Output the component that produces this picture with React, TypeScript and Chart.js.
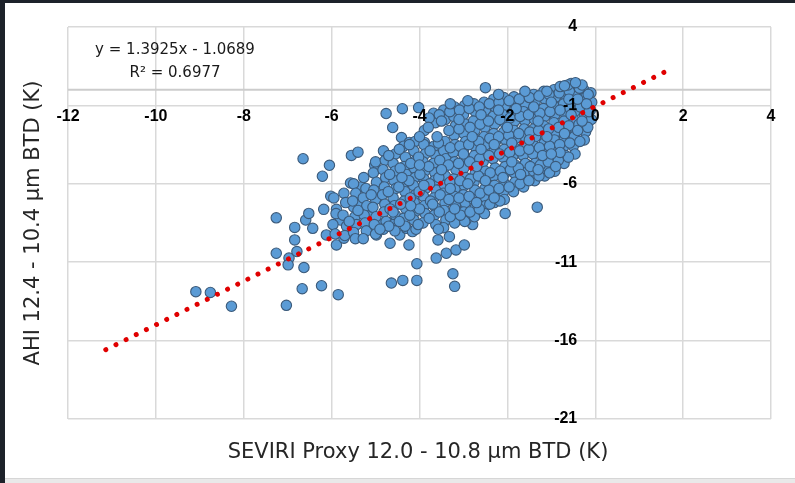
import React, { useEffect, useRef } from "react";
import { Chart, registerables } from "chart.js";

Chart.register(...registerables);

// ---- axis ticks ----
const xTicks = [-12, -10, -8, -6, -4, -2, 0, 2, 4];
const yTicks = [4, -1, -6, -11, -16, -21];

// ---- texts ----
const xTitle = "SEVIRI Proxy 12.0 - 10.8 μm BTD (K)";
const yTitle = "AHI 12.4 - 10.4 μm BTD (K)";
const equationLines = ["y = 1.3925x - 1.0689", "R² = 0.6977"];

// ---- linear trendline (Excel) ----
const trendSlope = 1.3925;
const trendIntercept = -1.0689;
const trendXStart = -11.14;
const trendXEnd = 1.62;

// ---- scattered points (x, y) ----
const outlierPoints: [number, number][] = [
  [-9.09, -12.88], [-8.76, -12.93], [-8.28, -13.81], [-7.26, -8.17], [-7.26, -10.43],
  [-7.03, -13.75], [-6.97, -10.74], [-6.99, -11.17], [-6.84, -8.78], [-6.84, -9.58],
  [-6.79, -10.32], [-6.67, -12.69], [-6.65, -4.4], [-6.63, -11.34], [-6.59, -8.31],
  [-6.52, -7.89], [-6.43, -8.84], [-6.23, -12.5], [-6.21, -5.52], [-6.18, -7.63],
  [-6.12, -9.26], [-6.05, -4.82], [-6.02, -6.79], [-5.89, -7.63], [-5.89, -9.9],
  [-5.85, -13.07], [-5.8, -8.31], [-5.72, -9.47], [-5.57, -5.95], [-5.55, -4.19],
  [-5.5, -7.47], [-5.4, -3.98], [-5.33, -6.2], [-5.33, -7.25], [-5.12, -6.52],
  [-5.1, -7.79], [-5.08, -8.84], [-5.02, -4.82], [-4.98, -8.42], [-4.98, -9.26],
  [-4.76, -1.52], [-4.67, -9.79], [-4.64, -12.33], [-4.61, -2.41], [-4.53, -8.31],
  [-4.45, -9.26], [-4.41, -3.05], [-4.39, -1.21], [-4.38, -12.16], [-4.3, -8.84],
  [-4.24, -9.9], [-4.23, -3.36], [-4.45, -4.0], [-4.16, -9.05], [-4.06, -11.1],
  [-4.06, -12.16], [-4.02, -1.14], [-3.89, -2.6], [-3.89, -3.36], [-3.62, -10.74],
  [-3.39, -10.43], [-3.24, -11.74], [-3.2, -12.54], [-3.17, -10.22], [-2.98, -9.9],
  [-2.5, 0.13], [-2.05, -7.89], [-1.32, -7.49], [-0.55, 0.4], [-3.32, -9.37],
  [-3.58, -9.58], [-2.79, -8.6], [-2.94, -8.3],
];

// ---- dense core of the cloud (x, y) ----
const corePoints: [number, number][] = [
  [-5.95, -6.9], [-5.9, -7.9], [-5.97, -8.6], [-5.92, -9.2],
  [-5.72, -6.6], [-5.68, -7.2], [-5.74, -8.0], [-5.66, -8.7], [-5.7, -9.3],
  [-5.5, -6.0], [-5.45, -6.6], [-5.52, -7.1], [-5.47, -8.1], [-5.43, -8.6], [-5.5, -9.1], [-5.46, -9.5],
  [-5.27, -5.6], [-5.22, -6.3], [-5.28, -6.9], [-5.2, -7.4], [-5.26, -8.0], [-5.24, -8.5], [-5.21, -9.0], [-5.28, -9.5],
  [-5.0, -4.6], [-5.05, -5.3], [-4.98, -5.9], [-5.04, -6.4], [-5.0, -7.0], [-5.06, -7.5], [-4.99, -8.1], [-5.03, -8.6], [-5.0, -9.2],
  [-4.82, -3.9], [-4.78, -4.5], [-4.83, -5.1], [-4.77, -5.6], [-4.8, -6.2], [-4.84, -6.7], [-4.79, -7.3], [-4.81, -7.8], [-4.76, -8.4], [-4.82, -8.9],
  [-4.55, -4.1], [-4.6, -4.7], [-4.56, -5.2], [-4.58, -5.8], [-4.54, -6.3], [-4.6, -6.9], [-4.57, -7.4], [-4.55, -8.0], [-4.59, -8.6], [-4.56, -9.0],
  [-4.36, -3.6], [-4.32, -4.3], [-4.35, -4.9], [-4.3, -5.4], [-4.37, -6.0], [-4.33, -6.5], [-4.35, -7.1], [-4.31, -7.6], [-4.36, -8.2], [-4.33, -8.7],
  [-4.1, -3.3], [-4.13, -3.9], [-4.08, -4.5], [-4.12, -5.0], [-4.1, -5.6], [-4.14, -6.1], [-4.09, -6.7], [-4.12, -7.2], [-4.1, -7.8], [-4.13, -8.3], [-4.08, -8.9],
  [-3.9, -3.5], [-3.87, -4.1], [-3.92, -4.6], [-3.88, -5.2], [-3.9, -5.7], [-3.86, -6.3], [-3.91, -6.8], [-3.89, -7.4], [-3.87, -7.9], [-3.92, -8.5],
  [-3.68, -1.5], [-3.64, -2.1], [-3.67, -3.6], [-3.63, -4.2], [-3.68, -4.7], [-3.65, -5.3], [-3.66, -5.8], [-3.62, -6.4], [-3.67, -6.9], [-3.64, -7.5], [-3.66, -8.0], [-3.63, -8.6],
  [-3.45, -1.3], [-3.41, -1.9], [-3.42, -3.3], [-3.45, -3.9], [-3.4, -4.4], [-3.44, -5.0], [-3.41, -5.5], [-3.43, -6.1], [-3.46, -6.6], [-3.42, -7.2], [-3.44, -7.7], [-3.4, -8.3], [-3.45, -8.8],
  [-3.2, -1.1], [-3.22, -1.7], [-3.18, -2.3], [-3.21, -2.9], [-3.19, -3.5], [-3.23, -4.0], [-3.2, -4.6], [-3.17, -5.1], [-3.22, -5.7], [-3.19, -6.3], [-3.21, -6.8], [-3.18, -7.4], [-3.22, -7.9], [-3.2, -8.5],
  [-2.97, -1.0], [-3.0, -1.6], [-2.96, -2.2], [-2.99, -2.8], [-2.95, -3.3], [-3.0, -3.9], [-2.97, -4.4], [-2.99, -5.0], [-2.95, -5.6], [-2.98, -6.1], [-3.0, -6.7], [-2.96, -7.2], [-2.99, -7.8], [-2.97, -8.4],
  [-2.76, -0.9], [-2.73, -1.4], [-2.77, -2.0], [-2.74, -2.6], [-2.76, -3.1], [-2.72, -3.7], [-2.75, -4.2], [-2.77, -4.8], [-2.73, -5.3], [-2.76, -5.9], [-2.74, -6.4], [-2.77, -7.0], [-2.73, -7.5], [-2.75, -8.1],
  [-2.53, -0.8], [-2.5, -1.3], [-2.54, -1.9], [-2.51, -2.4], [-2.53, -3.0], [-2.49, -3.5], [-2.52, -4.1], [-2.55, -4.6], [-2.5, -5.2], [-2.53, -5.7], [-2.51, -6.3], [-2.54, -6.8], [-2.5, -7.4], [-2.52, -7.9],
  [-2.31, -0.6], [-2.28, -1.1], [-2.32, -1.7], [-2.29, -2.2], [-2.31, -2.8], [-2.27, -3.3], [-2.3, -3.9], [-2.33, -4.4], [-2.28, -5.0], [-2.31, -5.5], [-2.29, -6.1], [-2.32, -6.6], [-2.3, -7.2],
  [-2.08, -0.5], [-2.05, -1.0], [-2.09, -1.6], [-2.06, -2.1], [-2.08, -2.7], [-2.04, -3.2], [-2.07, -3.8], [-2.1, -4.3], [-2.05, -4.9], [-2.08, -5.4], [-2.06, -6.0], [-2.09, -6.5], [-2.07, -7.0],
  [-1.85, -0.45], [-1.82, -0.95], [-1.86, -1.5], [-1.83, -2.0], [-1.85, -2.6], [-1.81, -3.1], [-1.84, -3.7], [-1.87, -4.2], [-1.82, -4.8], [-1.85, -5.3], [-1.83, -5.9], [-1.86, -6.5],
  [-1.62, -0.4], [-1.59, -0.9], [-1.63, -1.4], [-1.6, -2.0], [-1.62, -2.5], [-1.58, -3.1], [-1.61, -3.6], [-1.64, -4.2], [-1.59, -4.7], [-1.62, -5.3], [-1.6, -5.8], [-1.63, -6.2],
  [-1.4, -0.3], [-1.37, -0.8], [-1.41, -1.4], [-1.38, -1.9], [-1.4, -2.5], [-1.36, -3.0], [-1.39, -3.6], [-1.42, -4.1], [-1.37, -4.7], [-1.4, -5.2], [-1.38, -5.8],
  [-1.17, -0.1], [-1.14, -0.6], [-1.18, -1.2], [-1.15, -1.7], [-1.17, -2.3], [-1.13, -2.8], [-1.16, -3.4], [-1.19, -3.9], [-1.14, -4.5], [-1.17, -5.0], [-1.15, -5.5],
  [-0.94, 0.0], [-0.91, -0.5], [-0.95, -1.0], [-0.92, -1.6], [-0.94, -2.1], [-0.9, -2.7], [-0.93, -3.2], [-0.96, -3.8], [-0.91, -4.3], [-0.94, -4.8], [-0.92, -5.2],
  [-0.71, 0.1], [-0.68, -0.4], [-0.72, -0.9], [-0.69, -1.5], [-0.71, -2.0], [-0.67, -2.6], [-0.7, -3.1], [-0.73, -3.7], [-0.68, -4.2], [-0.71, -4.7],
  [-0.49, 0.2], [-0.46, -0.3], [-0.5, -0.8], [-0.47, -1.4], [-0.49, -1.9], [-0.45, -2.5], [-0.48, -3.0], [-0.5, -3.6], [-0.46, -4.1],
  [-0.26, 0.0], [-0.23, -0.5], [-0.27, -1.0], [-0.24, -1.6], [-0.26, -2.1], [-0.22, -2.7], [-0.25, -3.2],
  [-0.1, -0.2], [-0.08, -0.8], [-0.11, -1.3], [-0.09, -1.9],
];

const coreOffsetPoints: [number, number][] = [
  [-4.7, -4.2], [-4.68, -5.4], [-4.71, -6.5], [-4.67, -7.6], [-4.7, -8.7],
  [-4.46, -3.8], [-4.44, -5.0], [-4.47, -6.2], [-4.43, -7.3], [-4.46, -8.4],
  [-4.23, -3.5], [-4.2, -4.7], [-4.24, -5.8], [-4.21, -6.9], [-4.22, -8.0],
  [-4.0, -3.0], [-4.02, -4.3], [-3.99, -5.4], [-4.01, -6.5], [-4.0, -7.6], [-4.03, -8.6],
  [-3.78, -1.8], [-3.76, -3.9], [-3.79, -4.9], [-3.77, -6.0], [-3.75, -7.1], [-3.78, -8.2],
  [-3.55, -1.6], [-3.57, -3.4], [-3.54, -4.5], [-3.56, -5.6], [-3.53, -6.7], [-3.55, -7.8], [-3.57, -8.9],
  [-3.31, -1.4], [-3.33, -2.6], [-3.3, -3.7], [-3.34, -4.8], [-3.31, -5.9], [-3.33, -7.0], [-3.3, -8.1],
  [-3.09, -1.3], [-3.1, -2.5], [-3.08, -3.6], [-3.11, -4.7], [-3.08, -5.8], [-3.1, -6.9], [-3.07, -8.0],
  [-2.87, -1.2], [-2.85, -2.4], [-2.88, -3.5], [-2.86, -4.6], [-2.84, -5.7], [-2.87, -6.8], [-2.85, -7.8],
  [-2.64, -1.1], [-2.62, -2.2], [-2.65, -3.3], [-2.63, -4.4], [-2.66, -5.5], [-2.62, -6.6], [-2.64, -7.6],
  [-2.41, -0.9], [-2.43, -2.0], [-2.4, -3.1], [-2.42, -4.2], [-2.39, -5.3], [-2.42, -6.4], [-2.4, -7.3],
  [-2.19, -0.8], [-2.17, -1.9], [-2.2, -3.0], [-2.18, -4.1], [-2.16, -5.2], [-2.19, -6.3], [-2.17, -7.1],
  [-1.96, -0.7], [-1.94, -1.8], [-1.97, -2.9], [-1.95, -4.0], [-1.93, -5.1], [-1.96, -6.2],
  [-1.73, -0.6], [-1.71, -1.7], [-1.74, -2.8], [-1.72, -3.9], [-1.75, -5.0], [-1.71, -6.0],
  [-1.5, -0.5], [-1.52, -1.6], [-1.49, -2.7], [-1.51, -3.8], [-1.48, -4.9], [-1.51, -5.8],
  [-1.28, -0.4], [-1.26, -1.5], [-1.29, -2.6], [-1.27, -3.7], [-1.25, -4.8], [-1.28, -5.5],
  [-1.05, -0.3], [-1.03, -1.4], [-1.06, -2.5], [-1.04, -3.6], [-1.07, -4.6], [-1.04, -5.3],
  [-0.82, -0.2], [-0.8, -1.3], [-0.83, -2.4], [-0.81, -3.5], [-0.84, -4.5],
  [-0.59, -0.1], [-0.57, -1.2], [-0.6, -2.3], [-0.58, -3.4], [-0.61, -4.3],
  [-0.36, 0.1], [-0.34, -1.1], [-0.37, -2.2], [-0.35, -3.3],
  [-0.16, -0.3], [-0.14, -1.4], [-0.17, -2.4],
  [-0.62, 0.3], [-0.3, 0.3], [-0.8, 0.2],
];

const coreExtraPoints: [number, number][] = [
  [-3.5, -2.0], [-3.1, -1.9], [-2.6, -1.6], [-2.2, -1.3], [-1.8, -1.2], [-1.4, -1.1], [-1.0, -0.8], [-0.6, -0.6],
  [-3.0, -4.1], [-2.6, -3.8], [-2.3, -3.5], [-1.9, -3.4], [-1.5, -3.2], [-1.1, -3.0], [-0.7, -2.8], [-0.4, -2.6],
  [-3.3, -6.3], [-2.9, -6.0], [-2.5, -5.8], [-2.1, -5.6], [-1.7, -5.4], [-1.3, -5.1], [-0.9, -4.9],
  [-3.7, -7.3], [-3.2, -7.6], [-2.7, -7.2], [-2.3, -6.9], [-4.4, -5.6], [-4.0, -4.8], [-4.6, -7.8],
  [-4.2, -7.4], [-5.1, -6.7], [-5.4, -7.7], [-5.6, -8.4], [-4.9, -8.9], [-1.2, -4.2], [-0.8, -4.0],
  [-0.3, -2.0], [-0.2, -0.9], [-0.4, -0.6], [-2.9, -0.7], [-3.3, -0.9], [-2.2, -0.3], [-1.6, -0.1],
  [-1.1, -0.1], [-0.7, 0.25], [-0.45, 0.45], [-3.8, -2.4], [-3.6, -3.0], [-2.8, -3.0], [-2.0, -2.4],
  [-1.3, -2.0], [-0.55, -1.6], [-3.9, -6.1], [-3.5, -5.1], [-2.7, -4.9], [-1.9, -4.6], [-1.0, -4.1],
];

const W = 795;
const H = 483;

const overlayPlugin = {
  id: "overlay",
  beforeDatasetsDraw(chart: any) {
    const { ctx, scales, chartArea } = chart;
    const y0 = scales.y.getPixelForValue(0);
    ctx.save();
    ctx.strokeStyle = "#cccccc";
    ctx.lineWidth = 2;
    ctx.beginPath();
    ctx.moveTo(chartArea.left, y0);
    ctx.lineTo(chartArea.right, y0);
    ctx.stroke();
    ctx.restore();
  },
  afterDatasetsDraw(chart: any) {
    const { ctx, scales } = chart;
    const xs = scales.x;
    const ys = scales.y;
    const x0 = xs.getPixelForValue(0);
    const y0 = ys.getPixelForValue(0);
    ctx.save();
    ctx.fillStyle = "#000000";
    ctx.font = 'bold 16px "Liberation Sans", Arial, sans-serif';
    ctx.textBaseline = "middle";
    ctx.textAlign = "center";
    xTicks.forEach((v) => ctx.fillText(String(v), xs.getPixelForValue(v), y0 + 27));
    ctx.textAlign = "right";
    yTicks.forEach((v) => ctx.fillText(String(v), x0 - 18, ys.getPixelForValue(v)));

    // equation label
    ctx.fillStyle = "#1a1a1a";
    ctx.font = '15px "DejaVu Sans", sans-serif';
    ctx.textAlign = "center";
    ctx.fillText(equationLines[0], 175, 50);
    ctx.fillText(equationLines[1], 175, 73);

    // axis titles
    ctx.fillStyle = "#262626";
    ctx.font = '21px "DejaVu Sans", sans-serif';
    ctx.fillText(xTitle, 418, 453);
    ctx.translate(34, 223);
    ctx.rotate(-Math.PI / 2);
    ctx.fillText(yTitle, 0, 0);
    ctx.restore();
  },
};

export default function App() {
  const canvasRef = useRef<HTMLCanvasElement | null>(null);

  useEffect(() => {
    if (!canvasRef.current) return;
    const scatterData = [...outlierPoints, ...corePoints, ...coreOffsetPoints, ...coreExtraPoints].map(([x, y]) => ({ x, y }));
    const trendData = [trendXStart, trendXEnd].map((x) => ({ x, y: trendSlope * x + trendIntercept }));

    const chart = new Chart(canvasRef.current, {
      type: "scatter",
      data: {
        datasets: [
          {
            type: "line",
            label: "Linear trend",
            data: trendData,
            borderColor: "#e00000",
            borderWidth: 5,
            borderDash: [0.01, 11.32],
            borderCapStyle: "round",
            pointRadius: 0,
            fill: false,
            order: 0,
          } as any,
          {
            label: "BTD",
            data: scatterData,
            backgroundColor: "#5b9bd5",
            borderColor: "#3b5a7a",
            borderWidth: 1.1,
            pointRadius: 5.2,
            order: 1,
          },
        ],
      },
      options: {
        animation: false,
        responsive: false,
        maintainAspectRatio: false,
        layout: { padding: { left: 68, top: 27, right: 24, bottom: 64 } },
        plugins: {
          legend: { display: false },
          tooltip: { enabled: false },
        },
        scales: {
          x: {
            type: "linear",
            min: -12,
            max: 4,
            ticks: { stepSize: 2, display: false },
            grid: { color: "#d9d9d9", lineWidth: 1.5, drawTicks: false },
            border: { display: false },
          },
          y: {
            type: "linear",
            min: -21,
            max: 4,
            ticks: { stepSize: 5, display: false },
            grid: { color: "#d9d9d9", lineWidth: 1.5, drawTicks: false },
            border: { display: false },
          },
        },
      },
      plugins: [overlayPlugin],
    });
    return () => chart.destroy();
  }, []);

  return (
    <div style={{ position: "fixed", left: 0, top: 0, width: W, height: H, background: "#e9e9e9", overflow: "hidden" }}>
      <div style={{ position: "absolute", left: 0, top: 0, width: 5, height: H, background: "#1d222a" }} />
      <div style={{ position: "absolute", left: 0, top: 0, width: W, height: 3, background: "#1d222a" }} />
      <div
        style={{
          position: "absolute",
          left: 5,
          top: 3,
          width: W - 5,
          height: 476,
          background: "#ffffff",
          borderBottom: "1px solid #d6d6d6",
          boxSizing: "border-box",
        }}
      />
      <canvas ref={canvasRef} width={W} height={H} style={{ position: "absolute", left: 0, top: 0, width: W, height: H }} />
    </div>
  );
}
